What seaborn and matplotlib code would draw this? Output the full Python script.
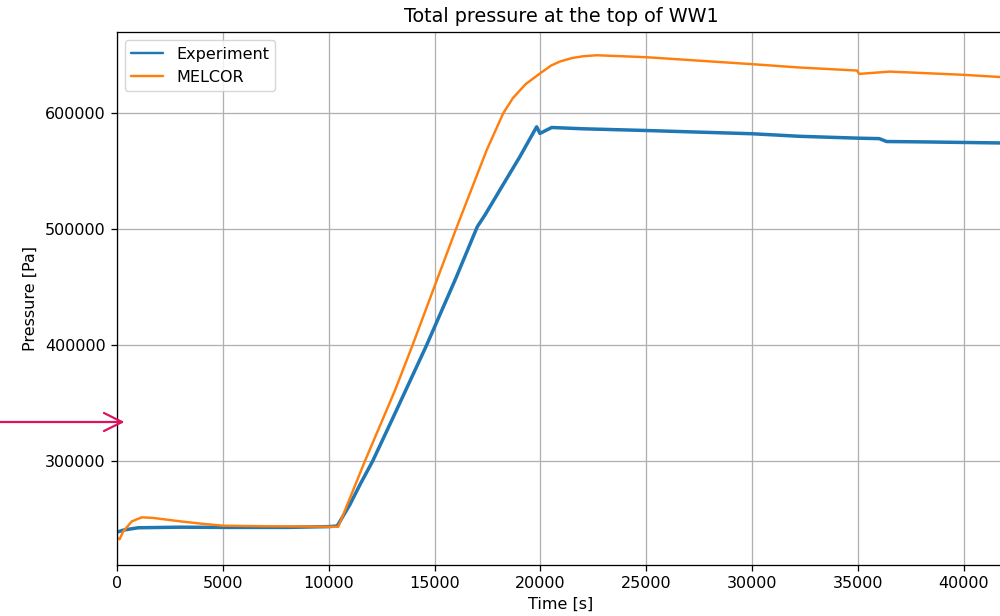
import matplotlib
matplotlib.use("Agg")
import matplotlib.pyplot as plt
import seaborn as sns
import pandas as pd

# Data
exp_time = [0, 300, 1000, 3000, 5000, 8000, 10000, 10400, 11000, 11500, 12075, 13000,
            14625, 16000, 17015, 17380, 18480, 19030, 19820, 19976, 20530, 22000,
            25000, 30000, 32250, 35000, 36000, 36350, 38000, 40000, 42000]
exp_pressure = [238700, 240500, 242500, 243000, 242800, 242800, 243500, 244000,
                262500, 280500, 300000, 336000, 400000, 457500, 502000, 512200, 545800,
                562500, 588200, 582500, 587600, 586500, 585000, 582200, 580000,
                578400, 578000, 575500, 575200, 574700, 574200]

mel_time = [0, 120, 300, 700, 1166, 1700, 3000, 4000, 5000, 7000, 10000, 10450, 11000,
            11710, 13130, 13960, 15000, 16010, 17460, 18245, 18700, 19300, 20000,
            20500, 20920, 21500, 22000, 22650, 25000, 30000, 32250, 34950, 35050,
            36500, 40000, 42000]
mel_pressure = [234000, 232500, 239500, 248000, 251500, 251000, 248000, 246000, 244300,
                243800, 243400, 243300, 268000, 300000, 361000, 400000, 450800,
                500000, 568100, 600000, 613000, 625000, 634500, 641000, 644500,
                647500, 649000, 649900, 648200, 642200, 639300, 636700, 633800,
                635800, 633000, 630800]

series_names = ["Experiment", "MELCOR"]
title = "Total pressure at the top of WW1"
x_label = "Time [s]"
y_label = "Pressure [Pa]"

sns.set_style("ticks")
plt.rcParams["font.family"] = ["DejaVu Sans"]
plt.rcParams["text.color"] = "black"
plt.rcParams["axes.labelcolor"] = "black"

exp_df = pd.DataFrame({"t": exp_time, "p": exp_pressure})
mel_df = pd.DataFrame({"t": mel_time, "p": mel_pressure})

fig = plt.figure(figsize=(10, 6.16), dpi=100)
ax = fig.add_axes([0.117, 0.0828, 0.888, 0.865])

sns.lineplot(data=exp_df, x="t", y="p", ax=ax, color="#1f77b4", lw=2.5,
             label=series_names[0], sort=False)
sns.lineplot(data=mel_df, x="t", y="p", ax=ax, color="#ff7f0e", lw=1.75,
             label=series_names[1], sort=False)

ax.set_xlim(0, 41940)
ax.set_ylim(210400, 669800)
ax.set_xticks([0, 5000, 10000, 15000, 20000, 25000, 30000, 35000, 40000])
ax.set_yticks([300000, 400000, 500000, 600000])
ax.grid(True, color="#b0b0b0", lw=0.92)
ax.set_axisbelow(True)
for s in ax.spines.values():
    s.set_color("black")
    s.set_linewidth(0.92)
ax.tick_params(colors="black", labelsize=11.5, length=4, width=0.92, pad=4)
ax.set_title(title, fontsize=13.8, pad=7, color="black")
ax.set_xlabel(x_label, fontsize=11.5, labelpad=4)
ax.set_ylabel(y_label, fontsize=11.5, labelpad=5)

leg = ax.legend(loc="upper left", fontsize=11.5, frameon=True)
leg.get_lines()[0].set_linewidth(1.75)
leg.get_lines()[1].set_linewidth(1.75)
leg.get_frame().set_edgecolor("#cccccc")
for txt in leg.get_texts():
    txt.set_color("black")

# pink pointer arrow at the left edge
ax.annotate("", xy=(124.5, 194), xycoords="figure pixels",
            xytext=(-2, 194), textcoords="figure pixels",
            arrowprops=dict(arrowstyle="->,head_length=1.3,head_width=0.65",
                            color="#dc1460", lw=1.6, shrinkA=0, shrinkB=0),
            annotation_clip=False)

fig.savefig("out.png", dpi=100)
